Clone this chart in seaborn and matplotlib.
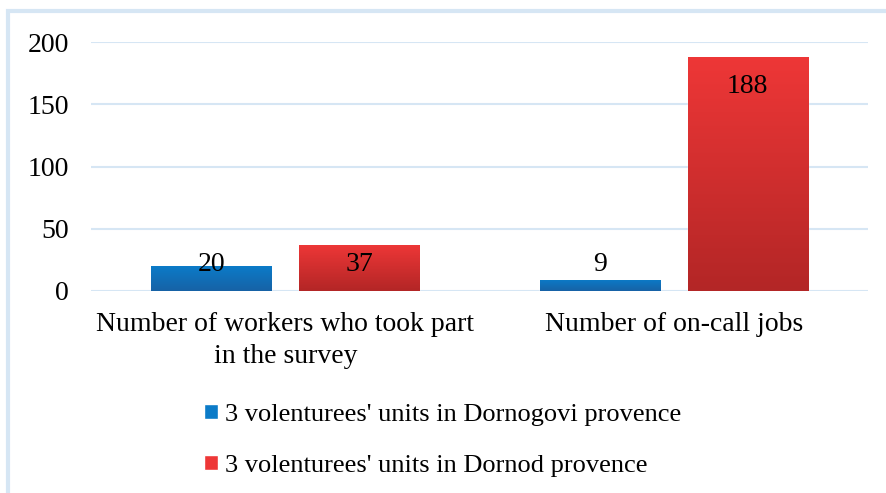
import numpy as np
import pandas as pd
import matplotlib
matplotlib.use("Agg")
import matplotlib.pyplot as plt
import seaborn as sns
from matplotlib.colors import LinearSegmentedColormap
from matplotlib.patches import Rectangle, Patch

categories = ["Number of workers who took part\nin the survey", "Number of on-call jobs"]
units = ["3 volenturees' units in Dornogovi provence", "3 volenturees' units in Dornod provence"]
dornogovi = [20, 9]
dornod = [37, 188]
yticks = [0, 50, 100, 150, 200]

blue_top, blue_bot = "#0B7BC8", "#1762A6"
red_top, red_bot = "#EE3737", "#B32626"
grid_col = "#D6E6F4"

df = pd.DataFrame({
    "category": categories * 2,
    "value": dornogovi + dornod,
    "unit": [units[0]] * 2 + [units[1]] * 2,
})

sns.set_theme(style="white")
plt.rcParams["font.family"] = ["Liberation Serif", "DejaVu Serif"]
plt.rcParams["text.color"] = "black"

fig = plt.figure(figsize=(8.86, 4.93), dpi=100)
ax = fig.add_axes([91 / 886, 1 - 291 / 493, 777 / 886, 249 / 493])

sns.barplot(data=df, x="category", y="value", hue="unit", hue_order=units,
            palette=[blue_top, red_top], width=0.76, gap=0.187, ax=ax)

# gradient fill on each bar
grad = np.linspace(0, 1, 100).reshape(-1, 1)
cmaps = [LinearSegmentedColormap.from_list("b", [blue_top, blue_bot]),
         LinearSegmentedColormap.from_list("r", [red_top, red_bot])]
for cont, cm in zip(ax.containers, cmaps):
    for bar in cont:
        x, y = bar.get_x(), bar.get_y()
        w, h = bar.get_width(), bar.get_height()
        im = ax.imshow(grad, extent=[x, x + w, y, y + h], aspect="auto",
                       cmap=cm, zorder=2, origin="upper")
        im.set_clip_path(bar)
        # value label, Excel-style inside end
        ax.text(x + w / 2, max(h - 24, 21), f"{h:g}", ha="center", va="center",
                fontsize=20, color="black", zorder=4)

ax.set_xlim(-0.5, 1.5)
ax.set_ylim(0, 200)
ax.set_yticks(yticks)
ax.yaxis.grid(True, color=grid_col, linewidth=1.5)
ax.set_axisbelow(True)
for s in ax.spines.values():
    s.set_visible(False)
ax.tick_params(axis="both", length=0, labelsize=20, colors="black")
ax.tick_params(axis="y", pad=16)
ax.tick_params(axis="x", pad=15)
ax.set_xlabel("")
ax.set_ylabel("")
for lbl in ax.get_xticklabels():
    lbl.set_linespacing(1.37)
ax.legend_.remove()

handles = [Patch(facecolor=blue_top), Patch(facecolor=red_top)]
fig.legend(handles, units, loc="center left", bbox_to_anchor=(204 / 886, 0.107),
           frameon=False, fontsize=19, handlelength=0.53, handleheight=0.53,
           handletextpad=0.27, labelspacing=1.1, borderpad=0, borderaxespad=0,
           labelcolor="black")

# light blue chart frame (cut at right and bottom)
fig.patches.append(Rectangle((7.5 / 886, -0.1), 1.2, 1.1 - 11 / 493, transform=fig.transFigure,
                             fill=False, edgecolor=grid_col, linewidth=3, zorder=0))

fig.savefig("out.png", dpi=100)
